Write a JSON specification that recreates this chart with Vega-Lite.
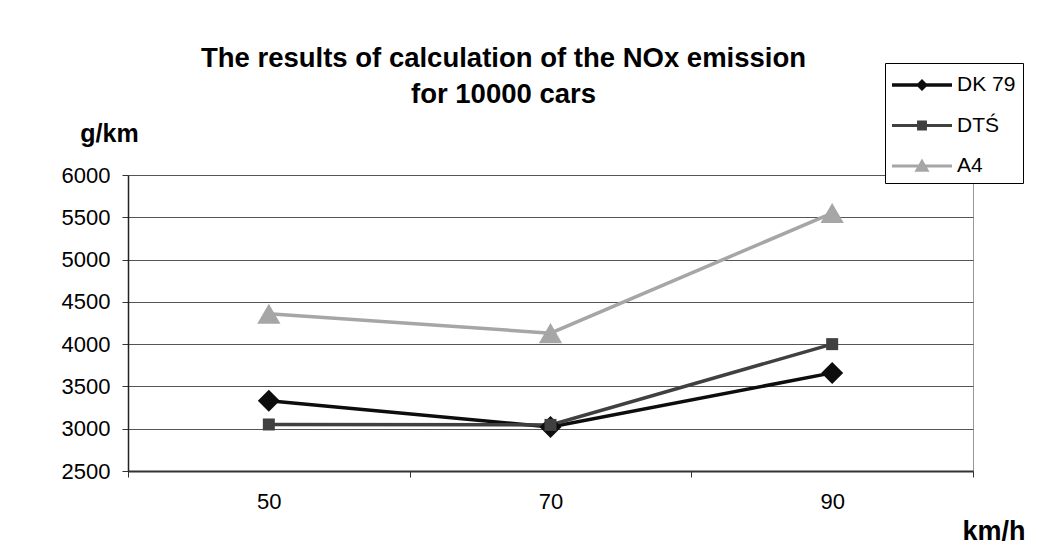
{
  "$schema": "https://vega.github.io/schema/vega-lite/v6.json",
  "width": 845,
  "height": 296,
  "autosize": {"type": "none"},
  "padding": {"left": 128, "top": 175, "right": 64, "bottom": 89},
  "background": "white",
  "title": {
    "text": ["The results of calculation of the NOx emission", "for 10000 cars"],
    "font": "Liberation Sans",
    "fontSize": 27.5,
    "fontWeight": "bold",
    "lineHeight": 36,
    "anchor": "middle",
    "dx": -47,
    "dy": 50,
    "color": "black",
    "frame": "group"
  },
  "data": {
    "values": [
      {"speed": "50", "series": "DK 79", "nox": 3330},
      {"speed": "70", "series": "DK 79", "nox": 3020},
      {"speed": "90", "series": "DK 79", "nox": 3660},
      {"speed": "50", "series": "DTŚ", "nox": 3050},
      {"speed": "70", "series": "DTŚ", "nox": 3045},
      {"speed": "90", "series": "DTŚ", "nox": 4000},
      {"speed": "50", "series": "A4", "nox": 4360},
      {"speed": "70", "series": "A4", "nox": 4130},
      {"speed": "90", "series": "A4", "nox": 5550}
    ]
  },
  "config": {
    "view": {"stroke": "#999999", "strokeWidth": 1},
    "font": "Liberation Sans"
  },
  "encoding": {
    "x": {
      "field": "speed",
      "type": "ordinal",
      "sort": ["50", "70", "90"],
      "scale": {"paddingInner": 0, "paddingOuter": 0},
      "axis": {
        "title": "km/h",
        "titleFont": "Liberation Sans",
        "titleFontSize": 27,
        "titleFontWeight": "bold",
        "titleColor": "black",
        "titleX": 834,
        "titleY": 68,
        "titleAlign": "left",
        "titleBaseline": "alphabetic",
        "labelAngle": 0,
        "labelFont": "Liberation Sans",
        "labelFontSize": 22,
        "labelColor": "black",
        "labelPadding": 14,
        "tickBand": "extent",
        "tickSize": 6,
        "tickColor": "#333333",
        "domainColor": "#333333",
        "domainWidth": 2,
        "grid": false
      }
    },
    "y": {
      "field": "nox",
      "type": "quantitative",
      "scale": {"domain": [2500, 6000], "nice": false, "zero": false},
      "axis": {
        "title": "g/km",
        "titleFont": "Liberation Sans",
        "titleFontSize": 25,
        "titleFontWeight": "bold",
        "titleColor": "black",
        "titleAngle": 0,
        "titleX": -19,
        "titleY": -34,
        "titleAlign": "center",
        "titleBaseline": "alphabetic",
        "values": [2500, 3000, 3500, 4000, 4500, 5000, 5500, 6000],
        "format": "d",
        "labelFont": "Liberation Sans",
        "labelFontSize": 22,
        "labelColor": "black",
        "labelPadding": 12,
        "tickSize": 6,
        "tickColor": "#333333",
        "domainColor": "#222222",
        "domainWidth": 1.5,
        "grid": true,
        "gridColor": "#555555",
        "gridWidth": 1
      }
    }
  },
  "layer": [
    {
      "mark": {"type": "line", "strokeWidth": 3.5},
      "encoding": {
        "color": {
          "field": "series",
          "type": "nominal",
          "scale": {"domain": ["DK 79", "DTŚ", "A4"], "range": ["#0d0d0d", "#404040", "#a6a6a6"]},
          "legend": {
            "title": null,
            "orient": "none",
            "legendX": 757,
            "legendY": -112,
            "fillColor": "white",
            "strokeColor": "black",
            "padding": 7,
            "labelFont": "Liberation Sans",
            "labelFontSize": 21,
            "labelColor": "black",
            "labelOffset": 20,
            "symbolOffset": 15,
            "symbolSize": 900,
            "symbolStrokeWidth": 0,
            "rowPadding": 15.5,
            "encode": {
              "symbols": {
                "update": {
                  "shape": {"signal": "datum.value === 'DK 79' ? 'M-2,-0.11H2V0.11H-2Z M-0.4,0L0,-0.4L0.4,0L0,0.4Z' : datum.value === 'DTŚ' ? 'M-2,-0.1H2V0.1H-2Z M-0.33,-0.33H0.33V0.33H-0.33Z' : 'M-2,-0.1H2V0.1H-2Z M0,-0.5L0.5,0.38H-0.5Z'"},
                  "size": {"value": 900},
                  "fill": {"scale": "color", "field": "value"},
                  "strokeWidth": {"value": 0},
                  "opacity": {"value": 1}
                }
              }
            }
          }
        }
      }
    },
    {
      "mark": {"type": "point", "filled": true, "opacity": 1, "strokeWidth": 0},
      "encoding": {
        "fill": {
          "field": "series",
          "type": "nominal",
          "scale": {"domain": ["A4", "DK 79", "DTŚ"], "range": ["#a6a6a6", "#0d0d0d", "#404040"]},
          "legend": null
        },
        "shape": {
          "field": "series",
          "type": "nominal",
          "scale": {"domain": ["A4", "DK 79", "DTŚ"], "range": ["triangle-up", "diamond", "square"]},
          "legend": null
        },
        "size": {
          "field": "series",
          "type": "nominal",
          "scale": {"type": "ordinal", "domain": ["A4", "DK 79", "DTŚ"], "range": [540, 484, 144]},
          "legend": null
        }
      }
    }
  ]
}
